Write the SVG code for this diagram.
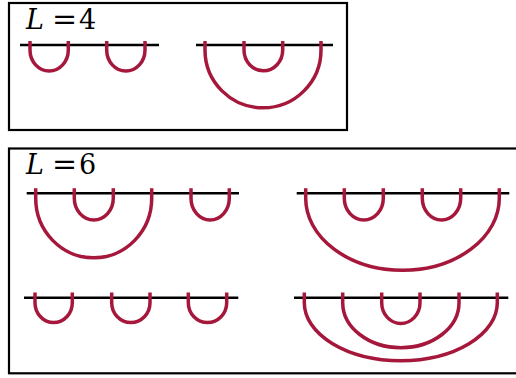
<svg xmlns="http://www.w3.org/2000/svg" width="516" height="378" viewBox="0 0 516 378">
<style>
.box{fill:none;stroke:#000;stroke-width:2.2}
.base{stroke:#000;stroke-width:2.4;fill:none}
.arc{fill:none;stroke:#A6173C;stroke-width:3.5;stroke-linecap:butt}
.lbl{font-family:"DejaVu Serif","Liberation Serif",serif;font-size:27px;fill:#000}
.it{font-style:italic}
.eq{font-size:30px}
</style>
<rect width="516" height="378" fill="#fff"/>
<g id="panel-L4">
  <rect class="box" x="9" y="3" width="338" height="127"/>
  <text class="lbl" x="26" y="29.3"><tspan class="it">L</tspan> <tspan class="eq" x="52">=</tspan> <tspan x="79">4</tspan></text>
  <g id="L4-a">
    <line class="base" x1="20" y1="45" x2="159" y2="45"/>
    <path class="arc" d="M30,41 V50 A19.15,21 0 0 0 68.3,50 V41"/>
    <path class="arc" d="M106.7,41 V50 A19.15,21 0 0 0 145,50 V41"/>
  </g>
  <g id="L4-b">
    <line class="base" x1="196" y1="45" x2="333" y2="45"/>
    <path class="arc" d="M205,41 V50 A58,57.8 0 0 0 321,50 V41"/>
    <path class="arc" d="M244,41 V50 A19.35,20.8 0 0 0 282.7,50 V41"/>
  </g>
</g>
<g id="panel-L6">
  <rect class="box" x="9" y="148.5" width="520" height="224.8"/>
  <text class="lbl" x="26" y="174"><tspan class="it">L</tspan> <tspan class="eq" x="52">=</tspan> <tspan x="79">6</tspan></text>
  <g id="L6-a">
    <line class="base" x1="26.7" y1="193.3" x2="239" y2="193.3"/>
    <path class="arc" d="M35.7,188.3 V198.3 A58,59.5 0 0 0 151.7,198.3 V188.3"/>
    <path class="arc" d="M74.3,188.3 V198.3 A19.5,21.7 0 0 0 113.3,198.3 V188.3"/>
    <path class="arc" d="M191,188.3 V198.3 A19.15,21.7 0 0 0 229.3,198.3 V188.3"/>
  </g>
  <g id="L6-b">
    <line class="base" x1="296.7" y1="193.3" x2="509.3" y2="193.3"/>
    <path class="arc" d="M305.7,188.3 V198.3 A96.8,72 0 0 0 499.3,198.3 V188.3"/>
    <path class="arc" d="M344.3,188.3 V198.3 A19.5,21.7 0 0 0 383.3,198.3 V188.3"/>
    <path class="arc" d="M422.3,188.3 V198.3 A19.2,21.7 0 0 0 460.7,198.3 V188.3"/>
  </g>
  <g id="L6-c">
    <line class="base" x1="24" y1="297.7" x2="238.3" y2="297.7"/>
    <path class="arc" d="M35,292.5 V302.7 A18.65,19.8 0 0 0 72.3,302.7 V292.5"/>
    <path class="arc" d="M111.7,292.5 V302.7 A19.15,19.8 0 0 0 150,302.7 V292.5"/>
    <path class="arc" d="M188.3,292.5 V302.7 A19.2,19.8 0 0 0 226.7,302.7 V292.5"/>
  </g>
  <g id="L6-d">
    <line class="base" x1="294" y1="297.7" x2="508.3" y2="297.7"/>
    <path class="arc" d="M304.3,292.5 V302.7 A96.5,58 0 0 0 497.3,302.7 V292.5"/>
    <path class="arc" d="M342.7,292.5 V302.7 A58.15,45 0 0 0 459,302.7 V292.5"/>
    <path class="arc" d="M381.7,292.5 V302.7 A19.15,20.8 0 0 0 420,302.7 V292.5"/>
  </g>
</g>
</svg>
